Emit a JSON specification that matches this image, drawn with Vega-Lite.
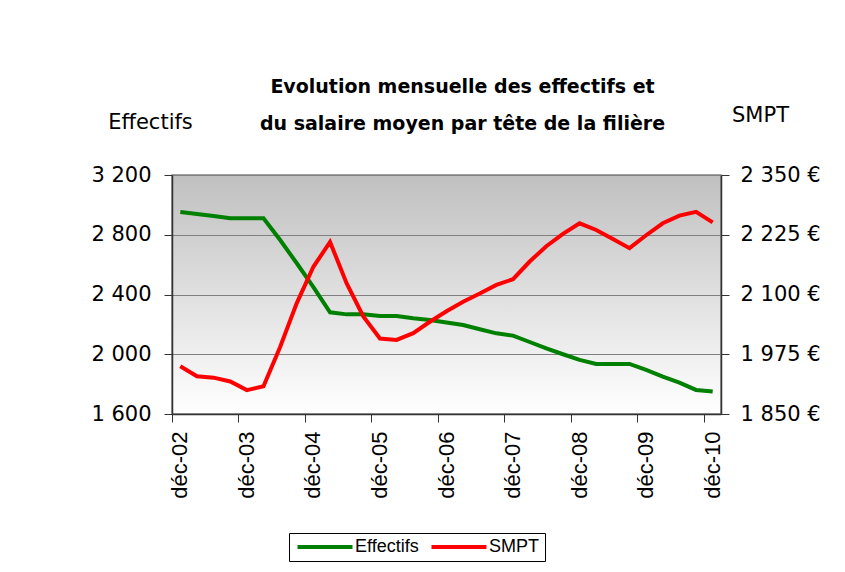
{
  "$schema": "https://vega.github.io/schema/vega-lite/v6.json",
  "width": 549,
  "height": 239,
  "autosize": "none",
  "padding": {"left": 172, "top": 175, "right": 124, "bottom": 158},
  "background": "#ffffff",
  "title": {
    "text": ["Evolution mensuelle des effectifs et", "du salaire moyen par tête de la filière"],
    "font": "DejaVu Sans",
    "fontSize": 19,
    "fontWeight": "bold",
    "color": "#000000",
    "lineHeight": 37,
    "anchor": "middle",
    "frame": "bounds",
    "dx": 7,
    "offset": -30
  },
  "config": {
    "view": {
      "stroke": "#808080",
      "strokeWidth": 1.5,
      "fill": {"gradient": "linear", "x1": 0, "y1": 0, "x2": 0, "y2": 1, "stops": [{"offset": 0, "color": "#c0c0c0"}, {"offset": 1, "color": "#ffffff"}]}
    },
    "axis": {"domainColor": "#333333", "tickColor": "#333333", "labelColor": "#000000", "titleColor": "#000000"}
  },
  "data": {
    "values": [
      {"date": "2002-12", "serie": "Effectifs", "valeur": 2952},
      {"date": "2003-03", "serie": "Effectifs", "valeur": 2939},
      {"date": "2003-06", "serie": "Effectifs", "valeur": 2926},
      {"date": "2003-09", "serie": "Effectifs", "valeur": 2910},
      {"date": "2003-12", "serie": "Effectifs", "valeur": 2910},
      {"date": "2004-03", "serie": "Effectifs", "valeur": 2910},
      {"date": "2004-06", "serie": "Effectifs", "valeur": 2765},
      {"date": "2004-09", "serie": "Effectifs", "valeur": 2609},
      {"date": "2004-12", "serie": "Effectifs", "valeur": 2450},
      {"date": "2005-03", "serie": "Effectifs", "valeur": 2281},
      {"date": "2005-06", "serie": "Effectifs", "valeur": 2267},
      {"date": "2005-09", "serie": "Effectifs", "valeur": 2267},
      {"date": "2005-12", "serie": "Effectifs", "valeur": 2256},
      {"date": "2006-03", "serie": "Effectifs", "valeur": 2256},
      {"date": "2006-06", "serie": "Effectifs", "valeur": 2241},
      {"date": "2006-09", "serie": "Effectifs", "valeur": 2229},
      {"date": "2006-12", "serie": "Effectifs", "valeur": 2212},
      {"date": "2007-03", "serie": "Effectifs", "valeur": 2196},
      {"date": "2007-06", "serie": "Effectifs", "valeur": 2167},
      {"date": "2007-09", "serie": "Effectifs", "valeur": 2140},
      {"date": "2007-12", "serie": "Effectifs", "valeur": 2125},
      {"date": "2008-03", "serie": "Effectifs", "valeur": 2082},
      {"date": "2008-06", "serie": "Effectifs", "valeur": 2040},
      {"date": "2008-09", "serie": "Effectifs", "valeur": 2000},
      {"date": "2008-12", "serie": "Effectifs", "valeur": 1962},
      {"date": "2009-03", "serie": "Effectifs", "valeur": 1935},
      {"date": "2009-06", "serie": "Effectifs", "valeur": 1935},
      {"date": "2009-09", "serie": "Effectifs", "valeur": 1935},
      {"date": "2009-12", "serie": "Effectifs", "valeur": 1895},
      {"date": "2010-03", "serie": "Effectifs", "valeur": 1850},
      {"date": "2010-06", "serie": "Effectifs", "valeur": 1810},
      {"date": "2010-09", "serie": "Effectifs", "valeur": 1761},
      {"date": "2010-12", "serie": "Effectifs", "valeur": 1750},
      {"date": "2002-12", "serie": "SMPT", "valeur": 1950},
      {"date": "2003-03", "serie": "SMPT", "valeur": 1929},
      {"date": "2003-06", "serie": "SMPT", "valeur": 1926},
      {"date": "2003-09", "serie": "SMPT", "valeur": 1918},
      {"date": "2003-12", "serie": "SMPT", "valeur": 1900},
      {"date": "2004-03", "serie": "SMPT", "valeur": 1908},
      {"date": "2004-06", "serie": "SMPT", "valeur": 1990},
      {"date": "2004-09", "serie": "SMPT", "valeur": 2082},
      {"date": "2004-12", "serie": "SMPT", "valeur": 2158},
      {"date": "2005-03", "serie": "SMPT", "valeur": 2210},
      {"date": "2005-06", "serie": "SMPT", "valeur": 2123},
      {"date": "2005-09", "serie": "SMPT", "valeur": 2054},
      {"date": "2005-12", "serie": "SMPT", "valeur": 2008},
      {"date": "2006-03", "serie": "SMPT", "valeur": 2005},
      {"date": "2006-06", "serie": "SMPT", "valeur": 2019},
      {"date": "2006-09", "serie": "SMPT", "valeur": 2043},
      {"date": "2006-12", "serie": "SMPT", "valeur": 2065},
      {"date": "2007-03", "serie": "SMPT", "valeur": 2085},
      {"date": "2007-06", "serie": "SMPT", "valeur": 2102},
      {"date": "2007-09", "serie": "SMPT", "valeur": 2120},
      {"date": "2007-12", "serie": "SMPT", "valeur": 2132},
      {"date": "2008-03", "serie": "SMPT", "valeur": 2169},
      {"date": "2008-06", "serie": "SMPT", "valeur": 2201},
      {"date": "2008-09", "serie": "SMPT", "valeur": 2227},
      {"date": "2008-12", "serie": "SMPT", "valeur": 2249},
      {"date": "2009-03", "serie": "SMPT", "valeur": 2235},
      {"date": "2009-06", "serie": "SMPT", "valeur": 2216},
      {"date": "2009-09", "serie": "SMPT", "valeur": 2197},
      {"date": "2009-12", "serie": "SMPT", "valeur": 2224},
      {"date": "2010-03", "serie": "SMPT", "valeur": 2249},
      {"date": "2010-06", "serie": "SMPT", "valeur": 2265},
      {"date": "2010-09", "serie": "SMPT", "valeur": 2273},
      {"date": "2010-12", "serie": "SMPT", "valeur": 2251}
    ]
  },
  "encoding": {
    "x": {
      "field": "date",
      "type": "ordinal",
      "scale": {"type": "band", "paddingInner": 0, "paddingOuter": 0},
      "axis": {
        "title": null,
        "values": ["2002-12", "2003-12", "2004-12", "2005-12", "2006-12", "2007-12", "2008-12", "2009-12", "2010-12"],
        "labelExpr": "'déc-' + slice(datum.value, 2, 4)",
        "labelAngle": -90,
        "labelAlign": "right",
        "labelBaseline": "middle",
        "labelFont": "Liberation Sans",
        "labelFontSize": 22,
        "labelPadding": 9,
        "bandPosition": 0,
        "tickSize": 8,
        "tickWidth": 1,
        "domainWidth": 1.5,
        "grid": false
      }
    },
    "color": {
      "field": "serie",
      "type": "nominal",
      "scale": {"domain": ["Effectifs", "SMPT"], "range": ["#008000", "#ff0000"]},
      "legend": {
        "title": null,
        "orient": "none",
        "legendX": 117,
        "legendY": 358,
        "direction": "horizontal",
        "symbolType": "M-1,0H9",
        "symbolSize": 121,
        "symbolStrokeWidth": 4,
        "labelFont": "Liberation Sans",
        "labelFontSize": 18,
        "labelOffset": 43,
        "columnPadding": 4,
        "strokeColor": "#000000",
        "padding": 5
      }
    }
  },
  "layer": [
    {
      "transform": [{"filter": "datum.serie == 'Effectifs'"}],
      "mark": {"type": "line", "strokeWidth": 4},
      "encoding": {
        "y": {
          "field": "valeur",
          "type": "quantitative",
          "scale": {"domain": [1600, 3200], "nice": false, "zero": false},
          "axis": {
            "orient": "left",
            "values": [1600, 2000, 2400, 2800, 3200],
            "labelExpr": "replace(format(datum.value, ','), ',', ' ')",
            "labelFont": "DejaVu Sans",
            "labelFontSize": 21,
            "labelPadding": 13,
            "tickSize": 8,
            "domainWidth": 1.5,
            "grid": true,
            "gridColor": "#808080",
            "gridWidth": 1,
            "gridOpacity": 1,
            "title": "Effectifs",
            "titleAngle": 0,
            "titleFont": "DejaVu Sans",
            "titleFontSize": 21,
            "titleFontWeight": "normal",
            "titleAlign": "center",
            "titleBaseline": "middle",
            "titleX": -22,
            "titleY": -53
          }
        }
      }
    },
    {
      "transform": [{"filter": "datum.serie == 'SMPT'"}],
      "mark": {"type": "line", "strokeWidth": 4},
      "encoding": {
        "y": {
          "field": "valeur",
          "type": "quantitative",
          "scale": {"domain": [1850, 2350], "nice": false, "zero": false},
          "axis": {
            "orient": "right",
            "values": [1850, 1975, 2100, 2225, 2350],
            "labelExpr": "replace(format(datum.value, ','), ',', ' ') + ' €'",
            "labelFont": "DejaVu Sans",
            "labelFontSize": 21,
            "labelPadding": 11,
            "tickSize": 8,
            "domainWidth": 1.5,
            "grid": false,
            "title": "SMPT",
            "titleAngle": 0,
            "titleFont": "DejaVu Sans",
            "titleFontSize": 21,
            "titleFontWeight": "normal",
            "titleAlign": "center",
            "titleBaseline": "middle",
            "titleX": 39,
            "titleY": -60
          }
        }
      }
    }
  ],
  "resolve": {"scale": {"y": "independent"}}
}
